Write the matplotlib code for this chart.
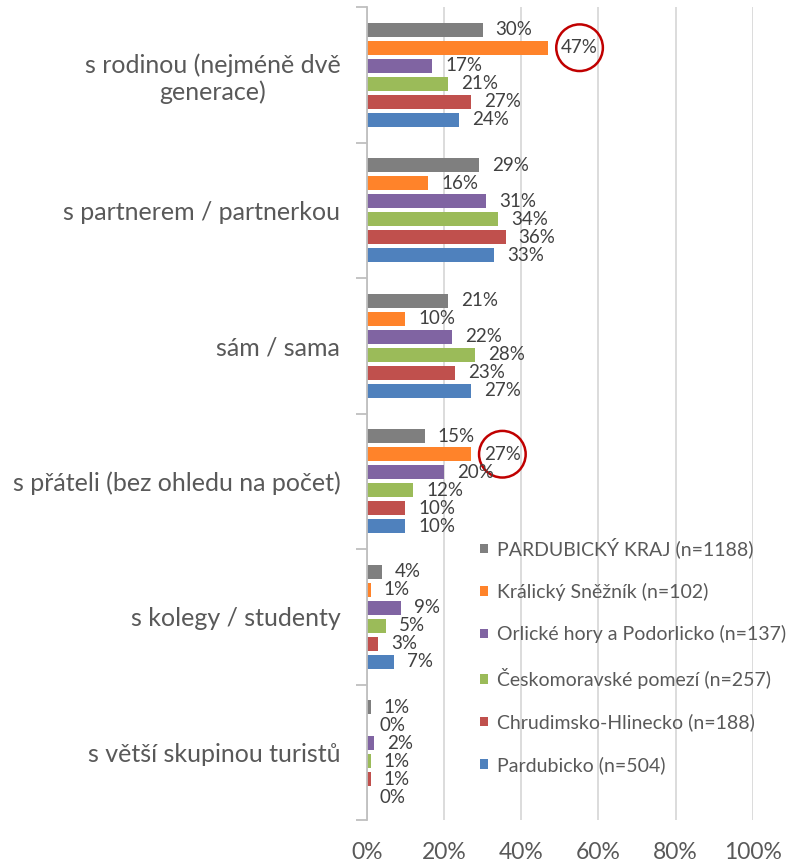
import matplotlib
matplotlib.use("Agg")
import matplotlib.pyplot as plt
import numpy as np
from matplotlib.ticker import MultipleLocator, FixedLocator

plt.rcParams['font.family'] = ['Lato', 'DejaVu Sans']

categories = ["s rodinou (nejméně dvě\ngenerace)", "s partnerem / partnerkou", "sám / sama",
              "s přáteli (bez ohledu na počet)", "s kolegy / studenty", "s větší skupinou turistů"]
series = ["PARDUBICKÝ KRAJ (n=1188)", "Králický Sněžník (n=102)", "Orlické hory a Podorlicko (n=137)",
          "Českomoravské pomezí (n=257)", "Chrudimsko-Hlinecko (n=188)", "Pardubicko (n=504)"]
colors = ["#7F7F7F", "#FF832A", "#8064A2", "#9BBB59", "#C0504D", "#4F81BD"]
kraj = [30, 29, 21, 15, 4, 1]
kralicky = [47, 16, 10, 27, 1, 0]
orlicke = [17, 31, 22, 20, 9, 2]
ceskomor = [21, 34, 28, 12, 5, 1]
chrudim = [27, 36, 23, 10, 3, 1]
pardubicko = [24, 33, 27, 10, 7, 0]
values = [kraj, kralicky, orlicke, ceskomor, chrudim, pardubicko]
highlight = [(1, 0), (1, 3)]  # (series, category) circled

fig = plt.figure(figsize=(7.86, 8.67), dpi=100)
W, H = 786, 867
ax = fig.add_axes([366.7 / W, 1 - 820 / H, (752.7 - 366.7) / W, (820 - 7) / H])

y = np.arange(len(categories))
pitch = 0.133
bh = 0.103
text_c = "#595959"
for i, (vals, c, name) in enumerate(zip(values, colors, series)):
    pos = y - 2.5 * pitch + i * pitch
    bars = ax.barh(pos, vals, height=bh, color=c, label=name)
    for j, (p, v) in enumerate(zip(pos, vals)):
        kw = {}
        if (i, j) in highlight:
            kw['bbox'] = dict(boxstyle='circle,pad=0.26', fc='none', ec='#C00000', lw=1.8)
        ax.annotate(f"{v}%", (v, p), xytext=(13, 0), textcoords='offset pixels',
                    ha='left', va='center', fontsize=13.5, color="#404040", **kw)

ax.set_xlim(0, 100)
ax.set_ylim(len(categories) - 0.5, -0.5)
ax.xaxis.set_major_locator(MultipleLocator(20))
ax.set_xticklabels([f"{int(t)}%" for t in ax.get_xticks()])
ax.grid(axis='x', color='#D9D9D9', lw=1.3)
ax.set_axisbelow(True)
for s in ['top', 'right', 'bottom']:
    ax.spines[s].set_visible(False)
ax.spines['left'].set_color('#BFBFBF')
ax.spines['left'].set_linewidth(1.3)
ax.tick_params(axis='x', length=0, pad=16, labelsize=16.5, labelcolor=text_c)
ax.set_yticks(y)
ax.set_yticklabels(categories, fontsize=18, color=text_c, multialignment='center')
ax.tick_params(axis='y', which='major', length=0, pad=19)
ax.yaxis.set_minor_locator(FixedLocator(np.arange(-0.5, len(categories), 1.0)))
ax.tick_params(axis='y', which='minor', length=8, color='#BFBFBF', width=1.3)

leg = ax.legend(loc='upper left', bbox_to_anchor=(463 / W, 1 - 520 / H), bbox_transform=fig.transFigure,
                frameon=False, fontsize=14, handlelength=0.38, handleheight=0.38, handletextpad=0.45,
                labelspacing=1.26, labelcolor=text_c)

fig.savefig("out.png", dpi=100)
